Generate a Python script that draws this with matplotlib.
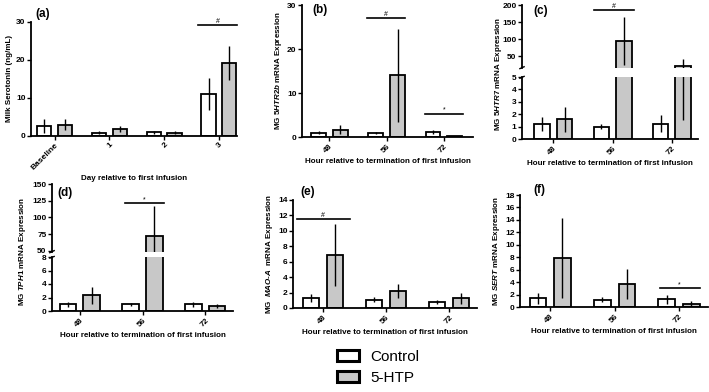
import numpy as np
import matplotlib
matplotlib.use("Agg")
import matplotlib.pyplot as plt
from matplotlib.patches import Patch

plt.rcParams['font.family'] = ['Liberation Sans', 'DejaVu Sans']
plt.rcParams['font.weight'] = 'bold'
plt.rcParams['mathtext.fontset'] = 'custom'
plt.rcParams['mathtext.it'] = 'Liberation Sans:italic:bold'
plt.rcParams['mathtext.rm'] = 'Liberation Sans:bold'

W, H = 709, 392

# data (mean, sd)
days = ["Baseline", "1", "2", "3"]
hours = ["48", "56", "72"]

a_ctrl = [2.6, 0.9, 1.0, 11.1]
a_ctrl_err = [1.8, 0.3, 0.4, 4.2]
a_htp = [3.0, 1.8, 0.9, 19.2]
a_htp_err = [1.5, 0.8, 0.3, 4.5]

b_ctrl = [1.0, 0.9, 1.1]
b_ctrl_err = [0.3, 0.3, 0.5]
b_htp = [1.7, 14.0, 0.2]
b_htp_err = [1.0, 10.5, 0.1]

c_ctrl = [1.2, 1.0, 1.25]
c_ctrl_err = [0.55, 0.2, 0.65]
c_htp = [1.6, 95.0, 21.0]
c_htp_err = [1.0, 70.0, 19.5]

d_ctrl = [1.0, 1.0, 1.0]
d_ctrl_err = [0.4, 0.2, 0.4]
d_htp = [2.3, 72.0, 0.8]
d_htp_err = [1.3, 45.0, 0.3]

e_ctrl = [1.3, 1.1, 0.75]
e_ctrl_err = [0.5, 0.3, 0.25]
e_htp = [6.9, 2.2, 1.25]
e_htp_err = [4.0, 0.9, 0.7]

f_ctrl = [1.4, 1.2, 1.25]
f_ctrl_err = [0.9, 0.4, 0.7]
f_htp = [7.9, 3.75, 0.45]
f_htp_err = [6.4, 2.4, 0.5]

GREY = '#c8c8c8'
BW = 0.26
OFF = 0.19
LW = 1.3

fig = plt.figure(figsize=(W / 100, H / 100), dpi=100)


def px_axes(l, t, r, b):
    return fig.add_axes([l / W, 1 - b / H, (r - l) / W, (b - t) / H])


def style(ax, bottom=True):
    for s in ['top', 'right']:
        ax.spines[s].set_visible(False)
    ax.spines['left'].set_linewidth(LW)
    ax.spines['bottom'].set_linewidth(LW)
    if not bottom:
        ax.spines['bottom'].set_visible(False)
        ax.tick_params(axis='x', bottom=False, labelbottom=False)
    ax.tick_params(labelsize=6, width=1, length=3, pad=1)


def draw_bars(ax, ctrl, cerr, htp, herr):
    x = np.arange(len(ctrl))
    ax.bar(x - OFF, ctrl, BW, color='white', edgecolor='black', lw=LW, zorder=2)
    ax.bar(x + OFF, htp, BW, color=GREY, edgecolor='black', lw=LW, zorder=2)
    ax.errorbar(x - OFF, ctrl, yerr=cerr, fmt='none', ecolor='black', elinewidth=1, capsize=0, zorder=3)
    ax.errorbar(x + OFF, htp, yerr=herr, fmt='none', ecolor='black', elinewidth=1, capsize=0, zorder=3)


def xlabels(ax, labels, xlabel, xlim=(-0.47, 2.45)):
    ax.set_xlim(*xlim)
    ax.set_xticks(np.arange(len(labels)))
    ax.set_xticklabels(labels, rotation=45, ha='right', rotation_mode='anchor')
    ax.set_xlabel(xlabel, fontsize=5.8, fontweight='bold', labelpad=3)


def sig(ax, xc, y, x0, x1, mark):
    ax.plot([xc + x0, xc + x1], [y, y], color='black', lw=1.2, clip_on=False, zorder=4)
    ax.text(xc + (x0 + x1) / 2, y, mark, ha='center', va='bottom', fontsize=5, fontweight='normal')


def break_marks(ax_top, ax_bot):
    kw = dict(color='black', lw=1, clip_on=False)
    ax_top.plot([-0.012, 0.012], [-0.01, 0.02], transform=ax_top.transAxes, **kw)
    ax_bot.plot([-0.012, 0.012], [0.98, 1.01], transform=ax_bot.transAxes, **kw)


HOUR = "Hour relative to termination of first infusion"

# (a)
ax = px_axes(31, 22, 237, 136)
draw_bars(ax, a_ctrl, a_ctrl_err, a_htp, a_htp_err)
style(ax)
ax.set_ylim(0, 30)
ax.set_yticks([0, 10, 20, 30])
xlabels(ax, days, "Day relative to first infusion", xlim=(-0.43, 3.33))
ax.set_ylabel("Milk Serotonin (ng/mL)", fontsize=5.8, fontweight='bold', labelpad=2)
sig(ax, 3, 29.2, -0.38, 0.33, '#')
fig.text(35 / W, 1 - 17 / H, "(a)", fontsize=8.5, fontweight='bold')

# (b)
ax = px_axes(302, 5, 473, 137)
draw_bars(ax, b_ctrl, b_ctrl_err, b_htp, b_htp_err)
style(ax)
ax.set_ylim(0, 30)
ax.set_yticks([0, 10, 20, 30])
xlabels(ax, hours, HOUR, xlim=(-0.48, 2.51))
ax.set_ylabel(r"MG $5HTR2b$ mRNA Expression", fontsize=5.8, fontweight='bold', labelpad=2)
sig(ax, 1, 27.0, -0.35, 0.32, '#')
sig(ax, 2, 5.3, -0.33, 0.33, '*')
fig.text(312 / W, 1 - 13 / H, "(b)", fontsize=8.5, fontweight='bold')

# (c) broken axis
axt = px_axes(522, 5, 698, 68)
axb = px_axes(522, 77, 698, 139)
for a in (axt, axb):
    draw_bars(a, c_ctrl, c_ctrl_err, c_htp, c_htp_err)
style(axt, bottom=False)
style(axb)
axt.set_ylim(15, 200)
axt.set_yticks([50, 100, 150, 200])
axt.set_xlim(-0.53, 2.44)
axb.set_ylim(0, 5)
axb.set_yticks([0, 1, 2, 3, 4, 5])
xlabels(axb, hours, HOUR, xlim=(-0.53, 2.44))
axb.set_ylabel(r"MG $5HTR7$ mRNA Expression", fontsize=5.8, fontweight='bold', labelpad=6)
axb.yaxis.set_label_coords(-0.105, 1.05)
sig(axt, 1, 185, -0.32, 0.36, '#')
break_marks(axt, axb)
fig.text(533 / W, 1 - 14 / H, "(c)", fontsize=8.5, fontweight='bold')

# (d) broken axis
axt = px_axes(52, 184, 233, 252)
axb = px_axes(52, 257, 233, 311)
for a in (axt, axb):
    draw_bars(a, d_ctrl, d_ctrl_err, d_htp, d_htp_err)
style(axt, bottom=False)
style(axb)
axt.set_ylim(48.5, 150)
axt.set_yticks([50, 75, 100, 125, 150])
axt.set_xlim(-0.44, 2.44)
axb.set_ylim(0, 8)
axb.set_yticks([0, 2, 4, 6, 8])
xlabels(axb, hours, HOUR, xlim=(-0.44, 2.44))
axb.set_ylabel(r"MG $TPH1$ mRNA Expression", fontsize=5.8, fontweight='bold')
axb.yaxis.set_label_coords(-0.13, 1.1)
sig(axt, 1, 121.5, -0.28, 0.34, '*')
break_marks(axt, axb)
fig.text(57 / W, 1 - 196 / H, "(d)", fontsize=8.5, fontweight='bold')

# (e)
ax = px_axes(293, 200, 477, 308)
draw_bars(ax, e_ctrl, e_ctrl_err, e_htp, e_htp_err)
style(ax)
ax.set_ylim(0, 14)
ax.set_yticks(np.arange(0, 15, 2))
xlabels(ax, hours, HOUR, xlim=(-0.48, 2.44))
ax.set_ylabel(r"MG  $MAO$-$A$  mRNA Expression", fontsize=5.8, fontweight='bold', labelpad=2)
sig(ax, 0, 11.6, -0.42, 0.42, '#')
fig.text(300 / W, 1 - 195 / H, "(e)", fontsize=8.5, fontweight='bold')

# (f)
ax = px_axes(520, 195, 708, 307)
draw_bars(ax, f_ctrl, f_ctrl_err, f_htp, f_htp_err)
style(ax)
ax.set_ylim(0, 18)
ax.set_yticks(np.arange(0, 19, 2))
xlabels(ax, hours, HOUR, xlim=(-0.47, 2.45))
ax.set_ylabel(r"MG $SERT$ mRNA Expression", fontsize=5.8, fontweight='bold', labelpad=2)
sig(ax, 2, 3.0, -0.3, 0.32, '*')
fig.text(533 / W, 1 - 193 / H, "(f)", fontsize=8.5, fontweight='bold')

# legend
handles = [Patch(facecolor='white', edgecolor='black', lw=2.2),
           Patch(facecolor=GREY, edgecolor='black', lw=2.2)]
fig.legend(handles, ["Control", "5-HTP"], loc='upper left',
           bbox_to_anchor=(337 / W, 1 - 350 / H), frameon=False,
           borderpad=0, borderaxespad=0,
           prop={'size': 11, 'weight': 'normal'},
           handlelength=1.45, handleheight=0.72, labelspacing=0.45, handletextpad=0.75)

fig.savefig("out.png", dpi=100)
